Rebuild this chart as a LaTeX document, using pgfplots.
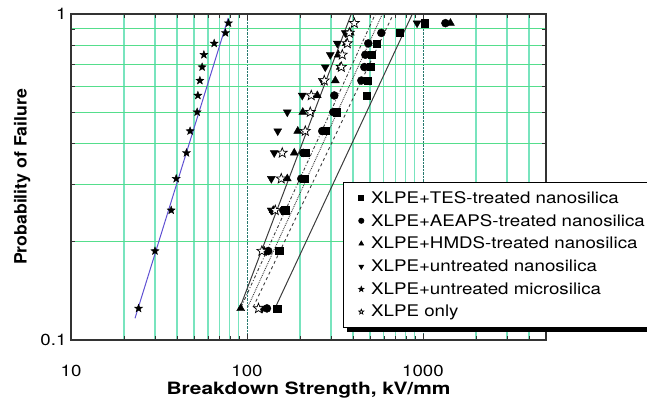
\documentclass[border=0pt]{standalone}
\usepackage{fontspec}
\setmainfont{TeX Gyre Heros}[FakeStretch=1.17]
\usepackage{graphicx}
\usepackage{pgfplots}
\usepackage{pgfplotstable}
\pgfplotsset{compat=1.18}
\usetikzlibrary{plotmarks,shadows}

\definecolor{hgrid}{RGB}{85,222,140}
\definecolor{vgrid}{RGB}{120,228,190}
\definecolor{majgrid}{RGB}{40,120,110}
\definecolor{fitblue}{RGB}{95,80,210}
\definecolor{fitgray}{RGB}{60,60,60}

% filled five-pointed star
\pgfdeclareplotmark{fivestar}{%
  \pgfpathmoveto{\pgfpointpolar{90}{\pgfplotmarksize}}%
  \pgfpathlineto{\pgfpointpolar{126}{0.42\pgfplotmarksize}}%
  \pgfpathlineto{\pgfpointpolar{162}{\pgfplotmarksize}}%
  \pgfpathlineto{\pgfpointpolar{198}{0.42\pgfplotmarksize}}%
  \pgfpathlineto{\pgfpointpolar{234}{\pgfplotmarksize}}%
  \pgfpathlineto{\pgfpointpolar{270}{0.42\pgfplotmarksize}}%
  \pgfpathlineto{\pgfpointpolar{306}{\pgfplotmarksize}}%
  \pgfpathlineto{\pgfpointpolar{342}{0.42\pgfplotmarksize}}%
  \pgfpathlineto{\pgfpointpolar{18}{\pgfplotmarksize}}%
  \pgfpathlineto{\pgfpointpolar{54}{0.42\pgfplotmarksize}}%
  \pgfpathclose
  \pgfusepathqfillstroke
}

% probability level, then breakdown strength (kV/mm) per material
\pgfplotstableread{
F      tes    aeaps  hmds   untr   micro  xlpe
0.1250 148.5  129.8  92.1   122.0  24.2   116.2
0.1875 152.5  132.0  125.3  128.6  30.0   121.5
0.2500 165.0  160.7  141.0  137.3  37.1   144.7
0.3125 211.6  203.4  169.4  137.5  39.6   156.5
0.3750 214.4  208.8  185.6  142.8  45.3   158.6
0.4375 278.4  267.7  194.3  149.5  47.5   214.4
0.5000 321.7  309.2  207.5  169.4  52.1   228.8
0.5625 480.8  313.3  250.8  206.1  52.6   231.8
0.6250 482.7  446.3  317.5  267.7  54.0   274.8
0.6875 502.0  464.2  338.9  278.4  55.6   343.5
0.7500 508.7  470.4  330.3  297.3  56.9   347.9
0.8125 543.0  489.0  366.7  326.0  65.1   371.5
0.8750 734.2  579.9  386.4  362.0  75.5   381.4
0.9375 1018   1341   1432   925.6  78.5   407.2
}\weib

\begin{document}
\begin{tikzpicture}[font=\fontsize{16}{19}\selectfont]
\begin{loglogaxis}[
  scale only axis, width=475pt, height=326pt,
  xmin=10, xmax=5000, ymin=0.1, ymax=1,
  xtick={10,100,1000}, xticklabels={\textrm{10},\textrm{100},\textrm{1000}},
  ytick={0.1,1}, yticklabels={\textrm{0.1},\textrm{1}},
  minor xtick={20,30,40,50,60,70,80,90,200,300,400,500,600,700,800,900,2000,3000,4000},
  minor ytick={0.2,0.3,0.4,0.5,0.6,0.7,0.8,0.9},
  xminorgrids, yminorgrids, xmajorgrids,
  minor x grid style={vgrid, line width=1.1pt},
  minor y grid style={hgrid, line width=1.1pt},
  major x grid style={majgrid, densely dotted, line width=0.9pt},
  tick align=inside, major tick length=6pt, minor tick length=4pt,
  axis line style={black!80, line width=1.2pt},
  tick style={black!80, line width=0.8pt},
  xticklabel shift=22pt,
  yticklabel style={xshift=-1pt},
  xlabel={\scalebox{1.05}[1]{\fontsize{17}{20}\selectfont\bfseries Breakdown Strength, kV/mm}},
  ylabel={\scalebox{0.89}[1]{\fontsize{17}{20}\selectfont\bfseries Probability of Failure}},
  xlabel style={at={(axis description cs:0.5,-0.152)}, anchor=center},
  ylabel style={at={(axis description cs:-0.103,0.5)}, anchor=center},
  legend cell align=left,
  legend style={at={(rel axis cs:0.5726,0.4856)}, anchor=north west,
    draw=black, line width=0.8pt, fill=white,
    inner xsep=3pt, inner ysep=7pt, row sep=5.5pt,
    drop shadow={shadow xshift=4pt, shadow yshift=-4.5pt, fill=black, opacity=1}},
  legend image code/.code={\path (0pt,0pt) (22pt,0pt);
    \draw[mark size=2.6pt] plot coordinates {(14.5pt,0pt)};},
]
% fitted lines
\addplot[fitblue, line width=1pt, forget plot] coordinates {(23.1,0.1166) (78.2,0.972)};
\addplot[fitgray, line width=1pt, forget plot] coordinates {(91.5,0.1263) (391.4,1)};
\addplot[fitgray, line width=0.9pt, dashdotted, forget plot] coordinates {(92.7,0.1263) (536,1)};
\addplot[fitgray, line width=0.9pt, densely dotted, forget plot] coordinates {(101.1,0.1263) (587.6,1)};
\addplot[fitgray, line width=0.9pt, dashed, forget plot] coordinates {(108.5,0.1263) (678.8,1)};
\addplot[fitgray, line width=1pt, forget plot] coordinates {(142.8,0.1237) (870,1)};

\addplot[only marks, mark=square*, mark size=3.6pt, black] table[x=tes, y=F] {\weib};
\addlegendentry{XLPE+TES-treated nanosilica}
\addplot[only marks, mark=*, mark size=4pt, black] table[x=aeaps, y=F] {\weib};
\addlegendentry{XLPE+AEAPS-treated nanosilica}
\addplot[only marks, mark=triangle*, mark size=4.6pt, black] table[x=hmds, y=F] {\weib};
\addlegendentry{XLPE+HMDS-treated nanosilica}
\addplot[only marks, mark=triangle*, mark size=4.6pt, mark options={rotate=180}, black] table[x=untr, y=F] {\weib};
\addlegendentry{XLPE+untreated nanosilica}
\addplot[only marks, mark=fivestar, mark size=4.2pt, mark options={fill=black}, black] table[x=micro, y=F] {\weib};
\addlegendentry{XLPE+untreated microsilica}
\addplot[only marks, mark=fivestar, mark size=5.2pt, mark options={fill=white, line width=0.7pt}, black] table[x=xlpe, y=F] {\weib};
\addlegendentry{XLPE only}
\end{loglogaxis}
\pgfresetboundingbox
\path[use as bounding box] (-71pt,-60pt) rectangle (576pt,340pt);
\end{tikzpicture}
\end{document}
